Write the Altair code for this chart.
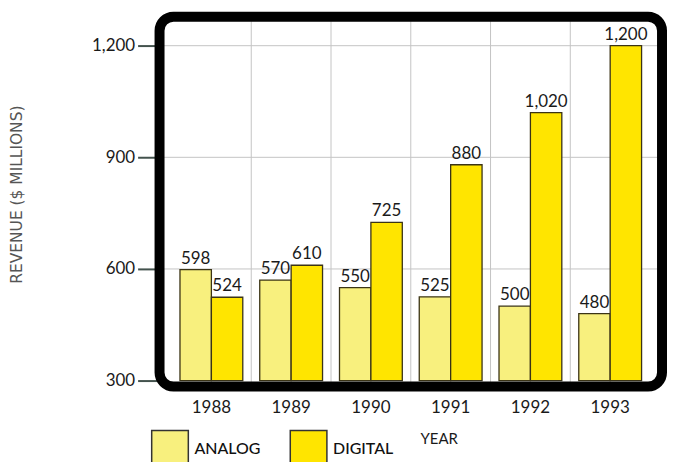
import altair as alt
import pandas as pd

years = ["1988", "1989", "1990", "1991", "1992", "1993"]
analog = [598, 570, 550, 525, 500, 480]
digital = [524, 610, 725, 880, 1020, 1200]
series = ["ANALOG", "DIGITAL"]
colors = ["#F8F07E", "#FFE500"]
y_ticks = [300, 600, 900, 1200]
h_grid = [600, 900, 1200]
v_grid = years[1:]

rows = []
for i, yr in enumerate(years):
    rows.append({"year": yr, "series": "ANALOG", "value": analog[i]})
    rows.append({"year": yr, "series": "DIGITAL", "value": digital[i]})
df = pd.DataFrame(rows)

W, H = 504, 371
FONT = "Lato"

xscale = alt.Scale(domain=years, paddingInner=0, paddingOuter=0.15)
yscale = alt.Scale(domain=[284, 1278], zero=False, nice=False)
offscale = alt.Scale(domain=series, paddingInner=0, paddingOuter=0.27)

x_enc = alt.X(
    "year:N", scale=xscale,
    axis=alt.Axis(title="YEAR", labelFontSize=17, labelColor="#1a1a1a", labelAngle=0,
                  labelAlign="center", bandPosition=0.5,
                  ticks=False, domain=False, grid=False, labelPadding=21,
                  titleX=280, titleY=52, titleAlign="center", titleBaseline="middle",
                  titleFontSize=15, titleFontWeight="normal", titleColor="#1a1a1a"))
y_enc = alt.Y(
    "value:Q", scale=yscale,
    axis=alt.Axis(values=y_ticks, format=",d", title="REVENUE ($ MILLIONS)",
                  labelFontSize=17, labelColor="#1a1a1a", tickColor="#43524d",
                  tickWidth=2, tickSize=22, domain=False, grid=False, labelPadding=3,
                  titleX=-143, titleY=178, titleAlign="center", titleBaseline="middle",
                  titleFont="DejaVu Sans", titleFontSize=15.5,
                  titleFontWeight="normal", titleColor="#555555"))

vgrid = alt.Chart(pd.DataFrame({"year": v_grid})).mark_rule(
    color="#c4c4c4", strokeWidth=1).encode(x=alt.X("year:N", bandPosition=0))
hgrid = alt.Chart(pd.DataFrame({"value": h_grid})).mark_rule(
    color="#c4c4c4", strokeWidth=1).encode(y=alt.Y("value:Q"))

bars = alt.Chart(df).mark_bar(stroke="#3b3416", strokeWidth=1.3).encode(
    x=x_enc,
    xOffset=alt.XOffset("series:N", scale=offscale),
    y=y_enc,
    y2=alt.datum(300),
    color=alt.Color("series:N", scale=alt.Scale(domain=series, range=colors),
                    legend=alt.Legend(orient="none", legendX=-9, legendY=414,
                                      direction="horizontal", title=None,
                                      symbolType="square", symbolSize=1350,
                                      symbolStrokeColor="#333333", symbolStrokeWidth=1.5,
                                      symbolOpacity=1,
                                      labelFontSize=16, labelColor="#111111",
                                      labelFontWeight=500,
                                      columnPadding=26, labelOffset=5)),
)

labels = alt.Chart(df).transform_calculate(
    label="format(datum.value, ',')"
).mark_text(baseline="bottom", dy=-2, fontSize=17, color="#1a1a1a").encode(
    x=alt.X("year:N"),
    xOffset=alt.XOffset("series:N"),
    y=alt.Y("value:Q"),
    text="label:N",
)

frame = alt.Chart(pd.DataFrame({"f": [0]})).mark_rect(
    fill="transparent", stroke="black", strokeWidth=10, cornerRadius=14
).encode(x=alt.value(0), x2=alt.value("width"), y=alt.value(0), y2=alt.value("height"))

chart = alt.layer(vgrid, hgrid, bars, labels, frame).properties(
    width=W, height=H,
    autosize=alt.AutoSizeParams(type="none"),
    padding={"left": 152, "top": 8, "right": 5, "bottom": 80},
).configure(font=FONT).configure_view(stroke="transparent")

chart.save("out.html", embed_options={"renderer": "svg", "actions": False})
